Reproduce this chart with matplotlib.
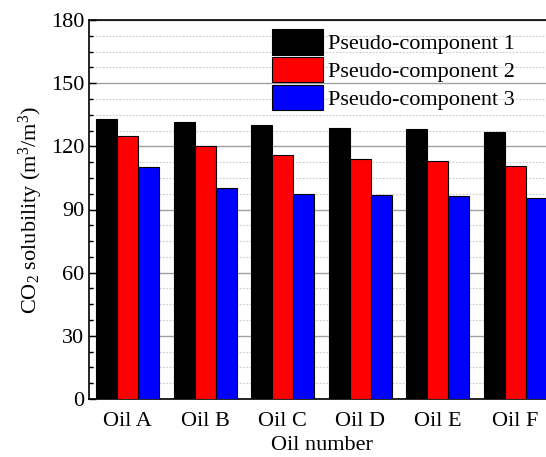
import numpy as np
import matplotlib
matplotlib.use('Agg')
import matplotlib.pyplot as plt
from matplotlib.ticker import MultipleLocator

plt.rcParams['font.family'] = 'Liberation Serif'
plt.rcParams['mathtext.fontset'] = 'custom'
plt.rcParams['mathtext.rm'] = 'Liberation Serif'
plt.rcParams['mathtext.it'] = 'Liberation Serif:italic'
plt.rcParams['mathtext.default'] = 'regular'

oils = ['Oil A', 'Oil B', 'Oil C', 'Oil D', 'Oil E', 'Oil F']
pc1 = [133.1, 131.5, 130.0, 128.7, 128.4, 126.9]
pc2 = [124.9, 120.3, 116.0, 113.8, 113.2, 110.5]
pc3 = [110.3, 100.3, 97.5, 96.7, 96.4, 95.4]
labels = ['Pseudo-component 1', 'Pseudo-component 2', 'Pseudo-component 3']
colors = ['black', 'red', 'blue']

fig = plt.figure(figsize=(5.46, 4.57), dpi=100)
# right spine sits just past the figure edge
ax = fig.add_axes([89 / 546, 58 / 457, 465 / 546, 379 / 457])

x = np.arange(len(oils))
w = 0.27
for k, (vals, lab, c) in enumerate(zip([pc1, pc2, pc3], labels, colors)):
    ax.bar(x + (k - 1) * w, vals, w, color=c, edgecolor='black', linewidth=0.8,
           label=lab, zorder=3)

ax.set_xlim(-0.5, len(oils) - 0.5)
ax.set_ylim(0, 180)
ax.yaxis.set_major_locator(MultipleLocator(30))
ax.yaxis.set_minor_locator(MultipleLocator(7.5))
ax.set_xticks(x)
ax.set_xticklabels(oils)
ax.tick_params(axis='both', which='both', direction='in', labelsize=16)
ax.tick_params(axis='y', which='major', length=5, width=1)
ax.tick_params(axis='y', which='minor', length=3, width=1)
ax.tick_params(axis='x', length=0, pad=9)

ax.grid(axis='y', which='major', color='#a0a0a0', linewidth=1, zorder=0)
ax.grid(axis='y', which='minor', color='#c8c8c8', linewidth=0.8,
        linestyle=(0, (1.5, 1.5)), zorder=0)
ax.set_axisbelow(True)
for s in ax.spines.values():
    s.set_linewidth(1.2)

ax.set_xlabel('Oil number', fontsize=16, labelpad=4)
ax.set_ylabel(r'CO$_2$ solubility (m$^3$/m$^3$)', fontsize=16, labelpad=4)

ax.legend(loc='upper left', bbox_to_anchor=(0.375, 1.0), frameon=False,
          fontsize=16, handlelength=2.3, handleheight=1.4, handletextpad=0.2,
          labelspacing=0.1, borderaxespad=0)

fig.savefig('out.png', dpi=100)
